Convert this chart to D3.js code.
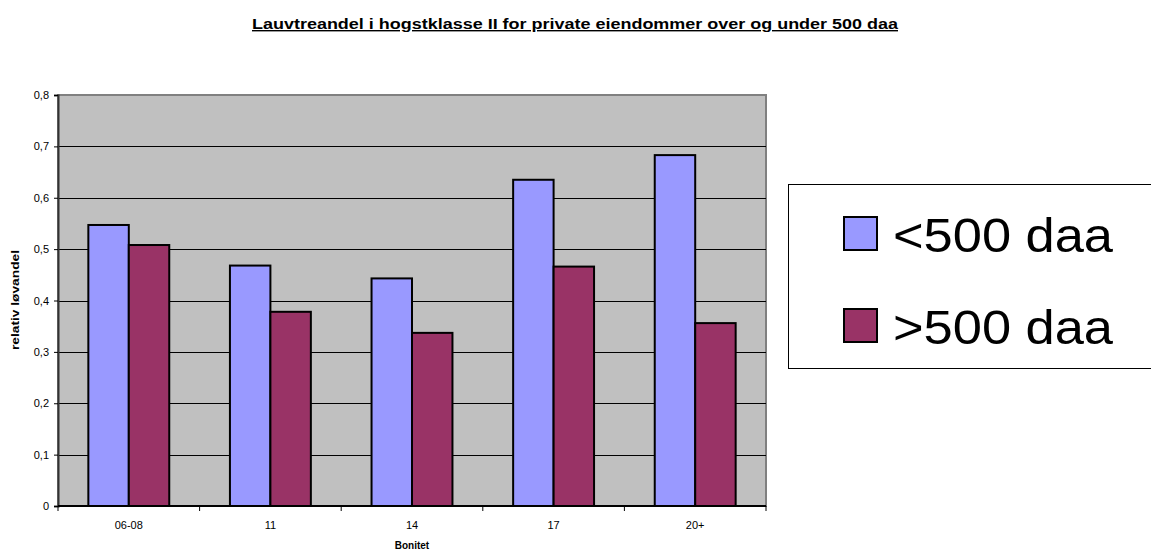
<!DOCTYPE html>
<html>
<head>
<meta charset="utf-8">
<script src="https://cdn.jsdelivr.net/npm/d3@7"></script>
<style>
  body { margin: 0; background: #fff; }
  svg { font-family: "Liberation Sans", Arial, sans-serif; }
</style>
</head>
<body>
<div id="chart"></div>
<script>
// data
const categories = ["06-08", "11", "14", "17", "20+"];
const seriesNames = ["<500 daa", ">500 daa"];
const under500 = [0.547, 0.468, 0.443, 0.635, 0.683];
const over500 = [0.508, 0.378, 0.337, 0.466, 0.356];
const yTicks = [0, 0.1, 0.2, 0.3, 0.4, 0.5, 0.6, 0.7, 0.8];
const colors = ["#9999FF", "#993366"];

const W = 1151, H = 553;
const plot = { left: 58, top: 95, right: 766, bottom: 506 };

const svg = d3.select("#chart").append("svg")
    .attr("width", W).attr("height", H);

const x = d3.scaleBand().domain(categories).range([plot.left, plot.right]);
const y = d3.scaleLinear().domain([0, 0.8]).range([plot.bottom, plot.top]);

// plot background
svg.append("rect")
    .attr("x", plot.left).attr("y", plot.top)
    .attr("width", plot.right - plot.left).attr("height", plot.bottom - plot.top)
    .attr("fill", "#C0C0C0").attr("stroke", "#808080").attr("stroke-width", 2);

// gridlines
svg.append("g").selectAll("line")
    .data(yTicks.filter(d => d > 0 && d < 0.8))
    .join("line")
    .attr("x1", plot.left).attr("x2", plot.right)
    .attr("y1", d => Math.round(y(d)) + 0.5).attr("y2", d => Math.round(y(d)) + 0.5)
    .attr("stroke", "#000").attr("stroke-width", 1);

// bars (gap width 150%, like the excel default)
const barW = x.bandwidth() / 3.5;
[under500, over500].forEach((vals, si) => {
    svg.append("g").selectAll("rect")
        .data(categories)
        .join("rect")
        .attr("x", (c) => x(c) + barW * 0.75 + si * barW)
        .attr("y", (c, i) => y(vals[i]))
        .attr("width", barW)
        .attr("height", (c, i) => y(0) - y(vals[i]))
        .attr("fill", colors[si])
        .attr("stroke", "#000")
        .attr("stroke-width", 2);
});

// y axis
const yAxis = d3.axisLeft(y).tickValues(yTicks)
    .tickFormat(d => d3.format(".1~f")(d).replace(".", ","))
    .tickSize(4).tickPadding(5);
const gy = svg.append("g").attr("transform", `translate(${plot.left},0)`).call(yAxis);
gy.select(".domain").attr("stroke", "#333").attr("stroke-width", 2);
gy.selectAll("text").attr("font-size", 11).attr("fill", "#000");

// x axis, ticks at category boundaries
const gx = svg.append("g").attr("transform", `translate(0,${plot.bottom})`);
gx.append("line").attr("x1", plot.left).attr("x2", plot.right)
    .attr("stroke", "#000").attr("stroke-width", 2);
gx.selectAll(".tk").data(categories.map((c) => x(c)).concat([plot.right]))
    .join("line").attr("class", "tk")
    .attr("x1", d => d).attr("x2", d => d)
    .attr("y1", 0).attr("y2", 5).attr("stroke", "#000");
gx.selectAll("text").data(categories).join("text")
    .attr("x", c => x(c) + x.bandwidth() / 2).attr("y", 23)
    .attr("text-anchor", "middle").attr("font-size", 11).text(c => c);

// titles
svg.append("text").attr("x", 575).attr("y", 29).attr("text-anchor", "middle")
    .attr("font-size", 14).attr("font-weight", "bold")
    .attr("text-decoration", "underline")
    .attr("textLength", 646).attr("lengthAdjust", "spacingAndGlyphs")
    .text("Lauvtreandel i hogstklasse II for private eiendommer over og under 500 daa");
svg.append("text").attr("x", 412).attr("y", 549).attr("text-anchor", "middle")
    .attr("font-size", 10).attr("font-weight", "bold").text("Bonitet");
svg.append("text").attr("transform", "translate(19,300) rotate(-90)")
    .attr("text-anchor", "middle").attr("font-size", 10).attr("font-weight", "bold")
    .attr("textLength", 100).attr("lengthAdjust", "spacingAndGlyphs")
    .text("relativ løvandel");

// legend
const lg = svg.append("g");
lg.append("rect").attr("x", 788.5).attr("y", 184.5).attr("width", 400).attr("height", 184)
    .attr("fill", "#fff").attr("stroke", "#000").attr("stroke-width", 1);
seriesNames.forEach((s, i) => {
    const cy = 234 + i * 92;
    lg.append("rect").attr("x", 844).attr("y", cy - 17).attr("width", 33).attr("height", 33)
        .attr("fill", colors[i]).attr("stroke", "#000").attr("stroke-width", 2);
    lg.append("text").attr("x", 893).attr("y", cy + 18)
        .attr("font-size", 48)
        .attr("textLength", 220).attr("lengthAdjust", "spacingAndGlyphs")
        .text(s);
});
</script>
</body>
</html>
